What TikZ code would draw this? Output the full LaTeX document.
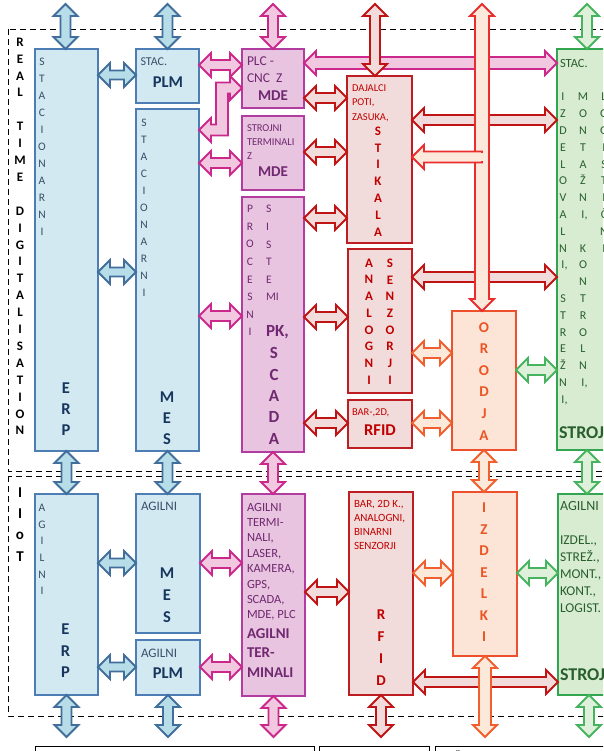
\documentclass[tikz,border=0pt]{standalone}
\usepackage{fontspec}
\setmainfont{Carlito}
\usetikzlibrary{calc}
\definecolor{blueF}{RGB}{210,233,242}
\definecolor{blueB}{RGB}{76,125,180}
\definecolor{blueAF}{RGB}{183,222,232}
\definecolor{blueAB}{RGB}{65,110,155}
\definecolor{pinkF}{RGB}{232,196,224}
\definecolor{pinkB}{RGB}{178,60,160}
\definecolor{pinkAF}{RGB}{242,200,224}
\definecolor{pinkAB}{RGB}{204,40,140}
\definecolor{redF}{RGB}{242,220,219}
\definecolor{redB}{RGB}{190,30,35}
\definecolor{redAF}{RGB}{242,220,219}
\definecolor{redAB}{RGB}{192,20,20}
\definecolor{brAF}{RGB}{253,233,220}
\definecolor{brAB}{RGB}{235,45,45}
\definecolor{orF}{RGB}{252,228,214}
\definecolor{orB}{RGB}{238,80,45}
\definecolor{orAF}{RGB}{253,233,217}
\definecolor{orAB}{RGB}{240,95,45}
\definecolor{grF}{RGB}{216,236,210}
\definecolor{grB}{RGB}{50,165,80}
\definecolor{grAF}{RGB}{222,240,217}
\definecolor{grAB}{RGB}{70,180,95}
\definecolor{blueT}{RGB}{58,78,104}
\definecolor{blueTB}{RGB}{23,54,93}
\definecolor{pinkT}{RGB}{112,40,112}
\definecolor{redT}{RGB}{192,0,0}
\definecolor{orT}{RGB}{235,85,35}
\definecolor{grT}{RGB}{40,95,45}
\newcommand\arrHL{12pt}
\newcommand\arrHW{12pt}
% horizontal double block arrow: style, shaft half width, left point, right point
\newcommand\harr[4]{\filldraw[#1] let \p1=#3, \p2=#4 in
  (\x1,\y1) -- ({\x1+\arrHL},{\y1+\arrHW}) -- ({\x1+\arrHL},{\y1+#2}) -- ({\x2-\arrHL},{\y1+#2})
  -- ({\x2-\arrHL},{\y1+\arrHW}) -- (\x2,\y1) -- ({\x2-\arrHL},{\y1-\arrHW}) -- ({\x2-\arrHL},{\y1-#2})
  -- ({\x1+\arrHL},{\y1-#2}) -- ({\x1+\arrHL},{\y1-\arrHW}) -- cycle;}
% vertical double block arrow: style, shaft half width, top point, bottom point
\newcommand\varr[4]{\filldraw[#1] let \p1=#3, \p2=#4 in
  (\x1,\y1) -- ({\x1+\arrHW},{\y1-\arrHL}) -- ({\x1+#2},{\y1-\arrHL}) -- ({\x1+#2},{\y2+\arrHL})
  -- ({\x1+\arrHW},{\y2+\arrHL}) -- (\x1,\y2) -- ({\x1-\arrHW},{\y2+\arrHL}) -- ({\x1-#2},{\y2+\arrHL})
  -- ({\x1-#2},{\y1-\arrHL}) -- ({\x1-\arrHW},{\y1-\arrHL}) -- cycle;}
\newcommand\bx[6]{\node[#1, anchor=north west, minimum width={(#5-#3)*1pt}, minimum height={(#6-#4)*1pt}] (#2) at (#3,#4) {};}
\newcommand\fs[2]{\fontsize{#1}{#2}\selectfont}
\begin{document}
\begin{tikzpicture}[x=1pt,y=-1pt,
  boxst/.style={draw, rectangle, inner sep=0pt, outer sep=0pt, line width=2.5pt},
  bluebox/.style={boxst, draw=blueB, fill=blueF},
  pinkbox/.style={boxst, draw=pinkB, fill=pinkF},
  redbox/.style={boxst, draw=redB, fill=redF},
  orbox/.style={boxst, draw=orB, fill=orF},
  grbox/.style={boxst, draw=grB, fill=grF},
  arr/.style={line width=1.8pt, line join=miter, miter limit=6},
  bluearr/.style={arr, draw=blueAB, fill=blueAF},
  pinkarr/.style={arr, draw=pinkAB, fill=pinkAF},
  redarr/.style={arr, draw=redAB, fill=redAF},
  brarr/.style={arr, draw=brAB, fill=brAF},
  orarr/.style={arr, draw=orAB, fill=orAF},
  grarr/.style={arr, draw=grAB, fill=grAF},
  frame/.style={draw=black, line width=0.9pt, dash pattern=on 6pt off 4pt},
  tx/.style={inner sep=0pt, outer sep=0pt}]
\useasboundingbox (0,0) rectangle (603,751);
\clip (0,0) rectangle (603,751);
\fill[white] (0,0) rectangle (603,751);
% frames
\draw[frame] (8,29) rectangle (640,471);
\draw[frame] (8,476) rectangle (640,716);
\draw[line width=0.9pt] (35,746) rectangle (314,790);
\draw[line width=0.9pt] (319,746) rectangle (429,790);
\draw[line width=0.9pt] (435,746) rectangle (640,790);
% boxes
\bx{bluebox}{serp}{35}{49}{98}{451}
\bx{bluebox}{splm}{136}{49}{199}{103}
\bx{bluebox}{smes}{136}{109}{199}{451}
\bx{bluebox}{aerp}{35}{494}{98}{695}
\bx{bluebox}{ames}{136}{494}{200}{633}
\bx{bluebox}{aplm}{136}{640}{200}{695}
\bx{pinkbox}{plc}{242}{49}{304}{108}
\bx{pinkbox}{stt}{242}{116}{304}{190}
\bx{pinkbox}{scada}{242}{197}{304}{452}
\bx{pinkbox}{aterm}{242}{494}{305}{696}
\bx{redbox}{stik}{347}{76}{412}{243}
\bx{redbox}{anal}{348}{249}{412}{393}
\bx{redbox}{rfida}{348}{400}{412}{448}
\bx{redbox}{rfidb}{349}{492}{413}{695}
\bx{orbox}{orodja}{452}{311}{516}{450}
\bx{orbox}{izdelki}{453}{492}{517}{656}
\bx{grbox}{sgreen}{557}{49}{640}{450}
\bx{grbox}{agreen}{558}{494}{640}{695}
% free arrow ends
\coordinate (tb1) at (65.5,4);
\coordinate (tb2) at (167.5,4);
\coordinate (bb1) at (66.5,737);
\coordinate (bb2) at (168,737);
\coordinate (tp1) at (273,4);
\coordinate (bp1) at (273.5,737);
\coordinate (tr1) at (375,4);
\coordinate (br1) at (381,737);
\coordinate (to1) at (482,4);
\coordinate (bo1) at (485,737);
\coordinate (tg1) at (587,4);
\coordinate (bg1) at (589,737);
% long horizontal arrows
\harr{pinkarr}{6pt}{(plc.east |- 0,63)}{(sgreen.west |- 0,63)}
\harr{redarr}{5pt}{(stik.east |- 0,120)}{(sgreen.west |- 0,120)}
\harr{redarr}{5pt}{(anal.east |- 0,277)}{(sgreen.west |- 0,277)}
\harr{redarr}{5pt}{(rfidb.east |- 0,682)}{(agreen.west |- 0,682)}
% blue arrows
\varr{bluearr}{5pt}{(tb1)}{(serp.north)}
\varr{bluearr}{5pt}{(tb2)}{(splm.north)}
\varr{bluearr}{5pt}{(serp.south)}{(aerp.north)}
\varr{bluearr}{5pt}{(smes.south)}{(ames.north)}
\varr{bluearr}{5pt}{(aerp.south)}{(bb1)}
\varr{bluearr}{5pt}{(aplm.south)}{(bb2)}
\harr{bluearr}{4.5pt}{(serp.east |- 0,75)}{(splm.west |- 0,75)}
\harr{bluearr}{4.5pt}{(serp.east |- 0,272)}{(smes.west |- 0,272)}
\harr{bluearr}{4.5pt}{(aerp.east |- 0,563)}{(ames.west |- 0,563)}
\harr{bluearr}{4.5pt}{(aerp.east |- 0,667)}{(aplm.west |- 0,667)}
% pink arrows
\varr{pinkarr}{5pt}{(tp1)}{(plc.north)}
\varr{pinkarr}{5pt}{(scada.south)}{(aterm.north)}
\varr{pinkarr}{5pt}{(aterm.south)}{(bp1)}
\harr{pinkarr}{5pt}{(splm.east |- 0,65)}{(plc.west |- 0,65)}
\harr{pinkarr}{5pt}{(smes.east |- 0,163)}{(stt.west |- 0,163)}
\harr{pinkarr}{5pt}{(smes.east |- 0,316)}{(scada.west |- 0,316)}
\harr{pinkarr}{5pt}{(ames.east |- 0,563)}{(aterm.west |- 0,563)}
\harr{pinkarr}{5pt}{(aplm.east |- 0,667)}{(aterm.west |- 0,667)}
\filldraw[pinkarr] let \p1=(smes.east |- 0,130), \p2=(plc.west |- 0,88) in
  (\x1,\y1) -- ({\x1+12pt},{\y1+12pt}) -- ({\x1+12pt},{\y1+5.5pt}) -- ({\x1+17pt},{\y1+5.5pt})
  -- ({\x1+17pt},{\y2+5.5pt}) -- ({\x2-12pt},{\y2+5.5pt}) -- ({\x2-12pt},{\y2+12pt}) -- (\x2,\y2)
  -- ({\x2-12pt},{\y2-12pt}) -- ({\x2-12pt},{\y2-5.5pt}) -- ({\x1+29pt},{\y2-5.5pt})
  -- ({\x1+29pt},{\y1-5.5pt}) -- ({\x1+12pt},{\y1-5.5pt}) -- ({\x1+12pt},{\y1-12pt}) -- cycle;
% red arrows
\varr{redarr}{5pt}{(tr1)}{(stik.north)}
\varr{redarr}{5pt}{(rfidb.south)}{(br1)}
\harr{redarr}{5pt}{(plc.east |- 0,98)}{(stik.west |- 0,98)}
\harr{redarr}{5pt}{(stt.east |- 0,152)}{(stik.west |- 0,152)}
\harr{redarr}{5pt}{(scada.east |- 0,218)}{(stik.west |- 0,218)}
\harr{redarr}{5pt}{(scada.east |- 0,317)}{(anal.west |- 0,317)}
\harr{redarr}{5pt}{(scada.east |- 0,423)}{(rfida.west |- 0,423)}
\harr{redarr}{5pt}{(aterm.east |- 0,592)}{(rfidb.west |- 0,592)}
% orange arrows
\varr{orarr}{5pt}{(orodja.south)}{(izdelki.north)}
\varr{orarr}{6pt}{(izdelki.south)}{(bo1)}
\harr{orarr}{5pt}{(anal.east |- 0,353)}{(orodja.west |- 0,353)}
\harr{orarr}{5pt}{(rfida.east |- 0,423)}{(orodja.west |- 0,423)}
\harr{orarr}{5pt}{(rfidb.east |- 0,573)}{(izdelki.west |- 0,573)}
% green arrows
\varr{grarr}{5pt}{(tg1)}{(sgreen.north)}
\varr{grarr}{5pt}{(sgreen.south -| 587,0)}{(agreen.north)}
\varr{grarr}{5pt}{(agreen.south -| 589,0)}{(bg1)}
\harr{grarr}{5pt}{(orodja.east |- 0,370)}{(sgreen.west |- 0,370)}
\harr{grarr}{5pt}{(izdelki.east |- 0,573)}{(agreen.west |- 0,573)}
% tool arrow with branch to STIKALA
\varr{brarr}{7pt}{(to1)}{(orodja.north)}
\filldraw[brarr] let \p1=(stik.east |- 0,157), \p2=(to1 |- 0,157) in
  (\x1,\y1) -- ({\x1+12pt},{\y1+12pt}) -- ({\x1+12pt},{\y1+5.5pt}) -- ({\x2},{\y1+5.5pt})
  -- ({\x2},{\y1-5.5pt}) -- ({\x1+12pt},{\y1-5.5pt}) -- ({\x1+12pt},{\y1-12pt}) -- cycle;
\fill[brAF] (470,152.8) rectangle (487.9,161.2);
% ---------- texts ----------
\node[tx, align=center, anchor=north, font=\fs{13}{16.9}\bfseries] (lrt) at (20,37.8)
  {R\\E\\A\\L\\\mbox{}\\T\\I\\M\\E\\\mbox{}\\D\\I\\G\\I\\T\\A\\L\\I\\S\\A\\T\\I\\O\\N};
\node[tx, align=center, anchor=north, font=\fs{15}{21.3}\bfseries] (liot) at (20,487.5) {I\\I\\o\\T};
% blue
\node[tx, align=center, anchor=north, text=blueT, font=\fs{11.5}{17}] (t1) at (42,58.3) {S\\T\\A\\C\\I\\O\\N\\A\\R\\N\\I};
\node[tx, align=center, anchor=north, text=blueTB, font=\fs{16.5}{21}\bfseries] (t2) at (66,382.8) {E\\R\\P};
\node[tx, anchor=west, text=blueT, font=\fs{12}{14}] (t3) at (140.5,62) {STAC.};
\node[tx, text=blueTB, font=\fs{16.5}{18}\bfseries] (t4) at (168,82) {PLM};
\node[tx, align=center, anchor=north, text=blueT, font=\fs{11.5}{17}] (t5) at (144,119.3) {S\\T\\A\\C\\I\\O\\N\\A\\R\\N\\I};
\node[tx, align=center, anchor=north, text=blueTB, font=\fs{16.5}{21}\bfseries] (t6) at (167,391.8) {M\\E\\S};
\node[tx, align=center, anchor=north, text=blueT, font=\fs{11.5}{16.6}] (t7) at (42,504.3) {A\\G\\I\\L\\N\\I};
\node[tx, align=center, anchor=north, text=blueTB, font=\fs{16.5}{21.5}\bfseries] (t8) at (65.5,623.8) {E\\R\\P};
\node[tx, anchor=west, text=blueT, font=\fs{13}{14}] (t9) at (141,506) {AGILNI};
\node[tx, align=center, anchor=north, text=blueTB, font=\fs{16.5}{22}\bfseries] (t10) at (167,567.8) {M\\E\\S};
\node[tx, anchor=west, text=blueT, font=\fs{13}{14}] (t11) at (141,653) {AGILNI};
\node[tx, text=blueTB, font=\fs{16.5}{18}\bfseries] (t12) at (168,673) {PLM};
% pink
\node[tx, anchor=west, text=pinkT, font=\fs{13.5}{15}] (p1) at (247,61) {PLC -};
\node[tx, anchor=west, text=pinkT, font=\fs{13.5}{15}] (p2) at (247,78) {CNC\ \ Z};
\node[tx, text=pinkT, font=\fs{15}{16}\bfseries] (p3) at (273,96) {MDE};
\node[tx, align=left, anchor=north west, text=pinkT, font=\fs{10.5}{14}] (p4) at (247,124.6) {STROJNI\\TERMINALI\\Z};
\node[tx, text=pinkT, font=\fs{15}{16}\bfseries] (p5) at (273,172) {MDE};
\node[tx, align=center, anchor=north, text=pinkT, font=\fs{11.5}{17.6}] (p6) at (250,205.4) {P\\R\\O\\C\\E\\S\\N\\I};
\node[tx, align=left, anchor=north west, text=pinkT, font=\fs{11.5}{17.6}] (p7) at (266,205.4) {S\\I\\S\\T\\E\\MI};
\node[tx, anchor=west, text=pinkT, font=\fs{17}{18}\bfseries] (p8) at (266,332) {PK,};
\node[tx, align=center, anchor=north, text=pinkT, font=\fs{17}{21.4}\bfseries] (p9) at (274,347.5) {S\\C\\A\\D\\A};
\node[tx, align=left, anchor=north west, text=pinkT, font=\fs{12.5}{15.4}] (p10) at (247,503)
  {AGILNI\\TERMI-\\NALI,\\LASER,\\KAMERA,\\GPS,\\SCADA,\\MDE, PLC};
\node[tx, align=left, anchor=north west, text=pinkT, font=\fs{15}{19.5}\bfseries] (p11) at (247,628.2) {AGILNI\\TER-\\MINALI};
% red
\node[tx, align=left, anchor=north west, text=redT, font=\fs{10.5}{14.5}] (r1) at (352,84.6) {DAJALCI\\POTI,\\ZASUKA,};
\node[tx, align=center, anchor=north, text=redT, font=\fs{13}{16.8}\bfseries] (r2) at (378,126.8) {S\\T\\I\\K\\A\\L\\A};
\node[tx, align=center, anchor=north, text=redT, font=\fs{13}{16.7}\bfseries] (r3) at (369,258.8) {A\\N\\A\\L\\O\\G\\N\\I};
\node[tx, align=center, anchor=north, text=redT, font=\fs{13}{16.7}\bfseries] (r4) at (390,258.8) {S\\E\\N\\Z\\O\\R\\J\\I};
\node[tx, anchor=west, text=redT, font=\fs{10.5}{12}] (r5) at (352,413) {BAR-,2D,};
\node[tx, text=redT, font=\fs{16.5}{18}\bfseries] (r6) at (380,430) {RFID};
\node[tx, align=left, anchor=north west, text=redT, font=\fs{11}{13.8}] (r7) at (354,500.5) {BAR, 2D K.,\\ANALOGNI,\\BINARNI\\SENZORJI};
\node[tx, align=center, anchor=north, text=redT, font=\fs{15}{21.7}\bfseries] (r8) at (381,610.2) {R\\F\\I\\D};
% orange
\node[tx, align=center, anchor=north, text=orT, font=\fs{15}{21.6}\bfseries] (o1) at (484,322.2) {O\\R\\O\\D\\J\\A};
\node[tx, align=center, anchor=north, text=orT, font=\fs{15}{21.5}\bfseries] (o2) at (484,503.2) {I\\Z\\D\\E\\L\\K\\I};
% green
\node[tx, anchor=west, text=grT, font=\fs{12.5}{14}] (g1) at (560,63) {STAC.};
\node[tx, align=center, anchor=north, text=grT, font=\fs{12}{16.8}] (g2) at (563,93.2)
  {I\\Z\\D\\E\\L\\O\\V\\A\\L\\N\\I\rlap{,}\\\mbox{}\\S\\T\\R\\E\\Ž\\N\\I\rlap{,}};
\node[tx, align=center, anchor=north, text=grT, font=\fs{12}{16.8}] (g3) at (583,93.2)
  {M\\O\\N\\T\\A\\Ž\\N\\I\rlap{,}\\\mbox{}\\K\\O\\N\\T\\R\\O\\L\\N\\I\rlap{,}};
\node[tx, align=center, anchor=north, text=grT, font=\fs{12}{16.8}] (g4) at (604,93.2)
  {L\\O\\G\\I\\S\\T\\I\\Č\\N\\I\rlap{,}};
\node[tx, anchor=west, text=grT, font=\fs{18}{20}\bfseries] (g5) at (559,433) {STROJI};
\node[tx, anchor=west, text=grT, font=\fs{14}{15}] (g6) at (560,506) {AGILNI};
\node[tx, align=left, anchor=north west, text=grT, font=\fs{13.5}{17}] (g7) at (560,535.6)
  {IZDEL.,\\STREŽ.,\\MONT.,\\KONT.,\\LOGIST.};
\node[tx, anchor=west, text=grT, font=\fs{18}{20}\bfseries] (g8) at (560,675) {STROJI};
\node[tx, anchor=west, font=\fs{12}{14}] (z1) at (455,756) {Ž};
\end{tikzpicture}
\end{document}
